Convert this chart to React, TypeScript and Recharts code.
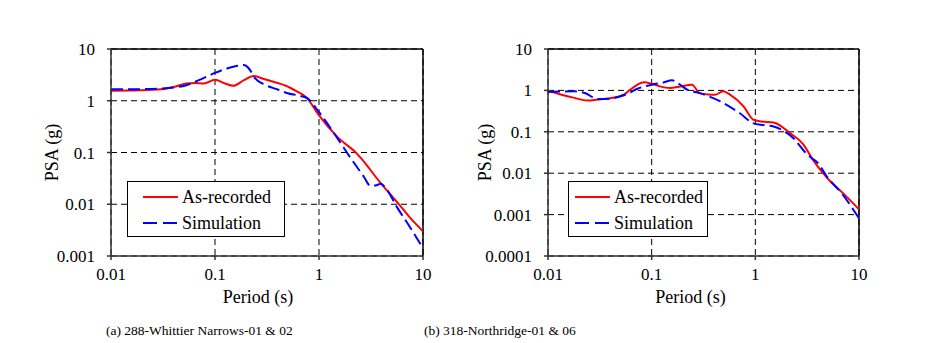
import React from 'react';
import { LineChart, Line, XAxis, YAxis, CartesianGrid, ReferenceLine, Legend } from 'recharts';

// (a) 288-Whittier Narrows-01 & 02
const periodsA_rec = [0.01, 0.015, 0.02, 0.03, 0.04, 0.053, 0.065, 0.078, 0.1, 0.125, 0.15, 0.19, 0.235, 0.3, 0.4, 0.48, 0.6, 0.76, 1.0, 1.5, 2.3, 2.9, 3.5, 4.5, 5.8, 7.5, 10];
const psaA_rec = [1.56, 1.57, 1.6, 1.66, 1.85, 2.15, 2.2, 2.15, 2.55, 2.15, 1.95, 2.5, 3.0, 2.6, 2.2, 1.95, 1.55, 1.15, 0.52, 0.2, 0.096, 0.056, 0.034, 0.0185, 0.0103, 0.0055, 0.003];
const periodsA_sim = [0.01, 0.02, 0.03, 0.04, 0.053, 0.07, 0.1, 0.13, 0.16, 0.19, 0.21, 0.225, 0.24, 0.3, 0.4, 0.5, 0.65, 0.78, 1.0, 1.5, 2.0, 2.7, 3.1, 3.5, 3.9, 4.5, 5.6, 7.5, 10];
const psaA_sim = [1.66, 1.68, 1.72, 1.8, 2.0, 2.5, 3.45, 4.2, 4.7, 4.9, 4.3, 3.5, 2.8, 2.05, 1.65, 1.4, 1.25, 1.1, 0.6, 0.19, 0.08, 0.034, 0.023, 0.023, 0.025, 0.019, 0.0089, 0.0036, 0.0014];

// (b) 318-Northridge-01 & 06
const periodsB_rec = [0.01, 0.013, 0.018, 0.024, 0.03, 0.04, 0.054, 0.062, 0.072, 0.084, 0.1, 0.12, 0.15, 0.19, 0.245, 0.29, 0.35, 0.41, 0.49, 0.57, 0.77, 0.96, 1.15, 1.5, 2.16, 2.9, 3.6, 4.5, 5.3, 7.0, 10];
const psaB_rec = [1.0, 0.81, 0.66, 0.57, 0.6, 0.65, 0.79, 1.04, 1.35, 1.58, 1.45, 1.25, 1.14, 1.25, 1.37, 0.86, 0.8, 0.79, 0.95, 0.79, 0.41, 0.195, 0.178, 0.168, 0.093, 0.05, 0.021, 0.01, 0.0063, 0.0033, 0.00134];
const periodsB_sim = [0.01, 0.018, 0.023, 0.03, 0.04, 0.05, 0.06, 0.072, 0.1, 0.13, 0.157, 0.19, 0.22, 0.29, 0.46, 0.71, 0.96, 1.2, 1.5, 2.33, 3.1, 3.5, 3.9, 4.9, 7.0, 10];
const psaB_sim = [0.91, 0.95, 0.85, 0.62, 0.63, 0.72, 0.85, 1.08, 1.37, 1.55, 1.75, 1.35, 1.04, 0.86, 0.54, 0.28, 0.16, 0.145, 0.134, 0.07, 0.03, 0.023, 0.019, 0.0083, 0.003, 0.00081];

const periodTicks = [0.01, 0.1, 1, 10];
const psaTicksA = [0.001, 0.01, 0.1, 1, 10];
const psaTicksB = [0.0001, 0.001, 0.01, 0.1, 1, 10];

const seriesNames = ['As-recorded', 'Simulation'];

const FONT = '"Liberation Serif", "Times New Roman", serif';

const toPoints = (t: number[], v: number[]) => t.map((x, i) => ({ t: x, psa: v[i] }));

// legend box drawn inside the plot
const SpectraLegend = ({ pad }: { pad: number }) => (
  <div
    style={{
      border: '1px solid #000',
      background: '#fff',
      height: 56,
      boxSizing: 'border-box',
      fontFamily: FONT,
      fontSize: 18,
      color: '#000',
      paddingLeft: pad,
      paddingTop: 2,
    }}
  >
    {seriesNames.map((name, i) => (
      <div key={name} style={{ display: 'flex', alignItems: 'center', height: 26 }}>
        <svg width={36} height={6} style={{ marginRight: 3 }}>
          <line
            x1={0}
            y1={3}
            x2={35}
            y2={3}
            stroke={i === 0 ? '#ff0000' : '#0000ff'}
            strokeWidth={2}
            strokeDasharray={i === 0 ? undefined : '14 6'}
          />
        </svg>
        <span>{name}</span>
      </div>
    ))}
  </div>
);

interface PanelProps {
  rec: { t: number; psa: number }[];
  sim: { t: number; psa: number }[];
  yTicks: number[];
  width: number;
  margin: { top: number; right: number; bottom: number; left: number };
  yAxisWidth: number;
  legendPos: { left: number; top: number; width: number; pad: number };
  labelDx: number;
}

const SpectrumPanel: React.FC<PanelProps> = ({ rec, sim, yTicks, width, margin, yAxisWidth, legendPos, labelDx }) => {
  const tickStyle = { fill: '#000', fontSize: 17, fontFamily: FONT };
  return (
    <LineChart width={width} height={343} margin={margin} style={{ fontFamily: FONT }}>
      <CartesianGrid stroke="#000" strokeDasharray="6 4" strokeWidth={1} />
      <XAxis
        dataKey="t"
        type="number"
        scale="log"
        domain={[0.01, 10]}
        ticks={periodTicks}
        allowDataOverflow
        stroke="#333"
        strokeWidth={1.5}
        tickSize={4}
        tickMargin={8}
        tick={tickStyle}
        height={48}
        label={{ value: 'Period (s)', position: 'insideBottom', offset: 1, dx: labelDx, fill: '#000', fontSize: 18, fontFamily: FONT }}
      />
      <YAxis
        type="number"
        scale="log"
        domain={[yTicks[0], 10]}
        ticks={yTicks}
        allowDataOverflow
        stroke="#333"
        strokeWidth={1.5}
        tickSize={4}
        tickMargin={12}
        tick={tickStyle}
        width={yAxisWidth}
        tickFormatter={(v: number) => String(v)}
        label={{ value: 'PSA (g)', angle: -90, position: 'insideLeft', offset: 1, style: { textAnchor: 'middle' }, fill: '#000', fontSize: 18, fontFamily: FONT }}
      />
      <ReferenceLine y={10} stroke="#000" strokeWidth={1.5} />
      <ReferenceLine x={10} stroke="#000" strokeWidth={1.5} />
      <Line data={rec} dataKey="psa" name={seriesNames[0]} type="monotone" stroke="#ff0000" strokeWidth={2} dot={false} isAnimationActive={false} />
      <Line data={sim} dataKey="psa" name={seriesNames[1]} type="monotone" stroke="#0000ff" strokeWidth={2} strokeDasharray="12 5" dot={false} isAnimationActive={false} />
      <Legend
        layout="horizontal"
        verticalAlign="middle"
        align="center"
        content={() => <SpectraLegend pad={legendPos.pad} />}
        wrapperStyle={{ left: legendPos.left, top: legendPos.top, width: legendPos.width, height: 56 }}
      />
    </LineChart>
  );
};

const captionStyle: React.CSSProperties = {
  position: 'absolute',
  top: 323,
  fontFamily: FONT,
  fontSize: 13.5,
  lineHeight: '16px',
  color: '#000',
  whiteSpace: 'pre',
};

export default function App() {
  return (
    <div style={{ position: 'absolute', left: 0, top: 0, width: 929, height: 343, background: '#fff', fontFamily: FONT }}>
      <style>{`svg text { font-family: "Liberation Serif", "Times New Roman", serif; }`}</style>
      <div style={{ position: 'absolute', left: 0, top: 0 }}>
        <SpectrumPanel
          rec={toPoints(periodsA_rec, psaA_rec)}
          sim={toPoints(periodsA_sim, psaA_sim)}
          yTicks={psaTicksA}
          width={460}
          margin={{ top: 49, right: 37, bottom: 39, left: 51 }}
          yAxisWidth={60}
          legendPos={{ left: 127, top: 181, width: 158, pad: 15 }}
          labelDx={-9}
        />
      </div>
      <div style={{ position: 'absolute', left: 460, top: 0 }}>
        <SpectrumPanel
          rec={toPoints(periodsB_rec, psaB_rec)}
          sim={toPoints(periodsB_sim, psaB_sim)}
          yTicks={psaTicksB}
          width={469}
          margin={{ top: 49, right: 70, bottom: 39, left: 24 }}
          yAxisWidth={64}
          legendPos={{ left: 108, top: 181, width: 140, pad: 6 }}
          labelDx={-13}
        />
      </div>
      <div style={{ ...captionStyle, left: 106 }}>{'(a) 288-Whittier Narrows-01 & 02'}</div>
      <div style={{ ...captionStyle, left: 424 }}>{'(b) 318-Northridge-01 & 06'}</div>
    </div>
  );
}
